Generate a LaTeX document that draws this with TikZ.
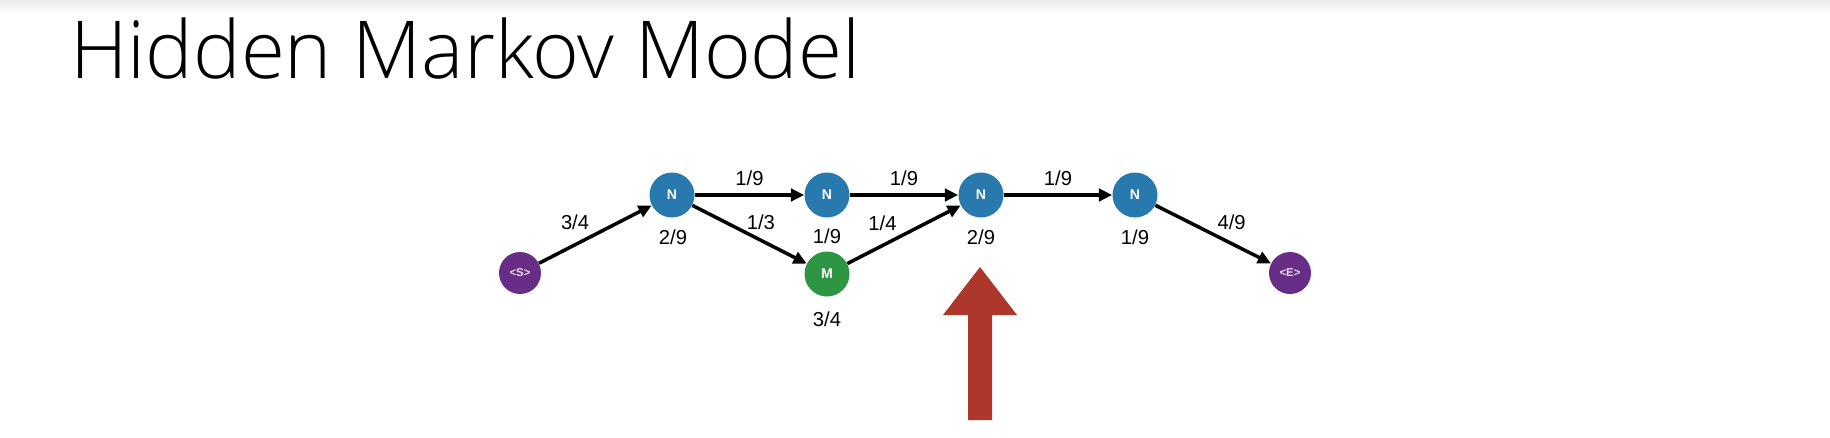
\documentclass[tikz,border=0pt]{standalone}
\usepackage{fontspec}
\setmainfont{Liberation Sans}
\IfFontExistsTF{Open Sans Light}
  {\newfontfamily\titlefont{Open Sans Light}}
  {\newfontfamily\titlefont{Open Sans}}
\usetikzlibrary{arrows.meta}
\definecolor{nblue}{RGB}{40,121,174}
\definecolor{mgreen}{RGB}{46,150,66}
\definecolor{sepurple}{RGB}{104,45,134}
\definecolor{arrowred}{RGB}{172,55,42}

\tikzset{
  state/.style={circle, fill=nblue, inner sep=0pt, minimum size=0.9cm,
    text=white, font=\bfseries\fontsize{8}{9}\selectfont},
  endpt/.style={circle, fill=sepurple, inner sep=0pt, minimum size=0.84cm,
    text=white!85!sepurple, font=\bfseries\fontsize{6.5}{7}\selectfont},
  prob/.style={font=\fontsize{11.5}{13}\selectfont, inner sep=3pt},
  edge/.style={line width=2pt, -{Triangle[length=7.5pt,width=7pt]}}
}

\begin{document}
\begin{tikzpicture}[x=0.02cm, y=-0.02cm]
\useasboundingbox (0,0) rectangle (1830,437);
\shade[top color=black!8, bottom color=white] (0,0) rectangle (1830,14);
\node[anchor=base west, inner sep=0pt, font=\titlefont\fontsize{45.5}{52}\selectfont] (title) at (70,78) {Hidden Markov Model};

% states
\node[endpt] (s) at (520,273) {<S>};
\node[state] (n1) at (672,195) {N};
\node[state] (n2) at (827,195) {N};
\node[state, fill=mgreen] (m) at (827,274) {M};
\node[state] (n3) at (981,195) {N};
\node[state] (n4) at (1135,195) {N};
\node[endpt] (e) at (1290,273) {<E>};

% emissions
\node[prob] (p1) at (673,237) {2/9};
\node[prob] (p2) at (827,236) {1/9};
\node[prob] (pm) at (827,319) {3/4};
\node[prob] (p3) at (981,237) {2/9};
\node[prob] (p4) at (1135,237) {1/9};

% transitions
\draw[edge] (s) -- node[prob, pos=.32, above=4.5pt] (t0) {3/4} (n1);
\draw[edge] (n1) -- node[prob, above=1.5pt] (t1) {1/9} (n2);
\draw[edge] (n1) -- node[prob, pos=.6, above=1.8pt] (t2) {1/3} (m);
\draw[edge] (n2) -- node[prob, above=1.5pt] (t3) {1/9} (n3);
\draw[edge] (m) -- node[prob, pos=.31, above=4.5pt] (t4) {1/4} (n3);
\draw[edge] (n3) -- node[prob, above=1.5pt] (t5) {1/9} (n4);
\draw[edge] (n4) -- node[prob, pos=.66, above=4pt] (t6) {4/9} (e);

% pointer
\fill[arrowred] (968,420) -- (968,315) -- (943,315) -- (980,267) -- (1017,315) -- (992,315) -- (992,420) -- cycle;
\end{tikzpicture}
\end{document}
